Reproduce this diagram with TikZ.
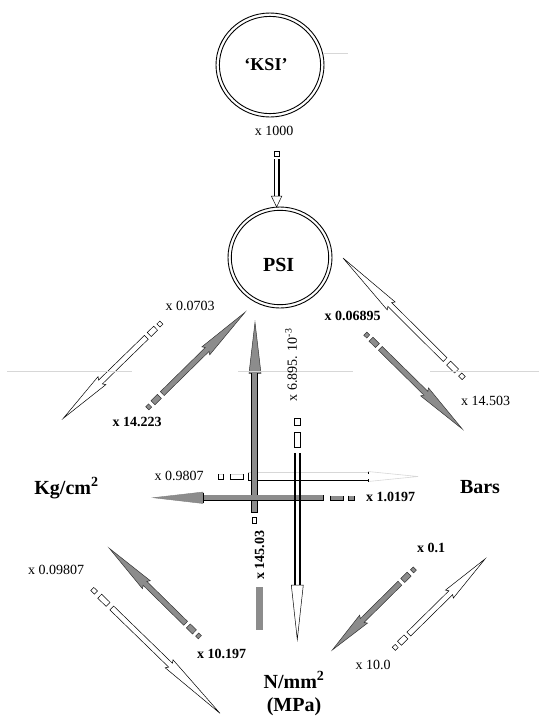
\documentclass[tikz,border=0pt]{standalone}
\usepackage{fontspec}
\setmainfont{Liberation Serif}
\usetikzlibrary{calc}
\definecolor{arrowgray}{RGB}{140,140,140}
\definecolor{faint}{RGB}{215,215,215}
\tikzset{
  lbl/.style={font=\fontsize{14}{16}\selectfont, anchor=base, inner sep=0pt},
  lblb/.style={font=\fontsize{14}{16}\selectfont\bfseries, anchor=base, inner sep=0pt},
  unit/.style={font=\fontsize{20}{23}\selectfont\bfseries, inner sep=0pt},
  whitearr/.style={draw=black, line width=0.5pt, fill=white},
  grayarr/.style={draw=black!80, line width=0.5pt, fill=arrowgray},
  ring/.style={draw=black, line width=0.9pt},
  edge/.style={draw=black, line width=1.1pt},
  guide/.style={draw=faint, line width=0.6pt},
}
% striped block arrow: #1 style, (#2,#3) tip, (#4,#5) point on the tail side,
% #6 head length, #7 shaft length, #8 stripe scale
\newcommand{\stripedarrow}[8]{%
  \pgfmathsetmacro{\arrang}{atan2(-((#5)-(#3)),(#4)-(#2))}%
  \begin{scope}[shift={(#2,#3)}, rotate=\arrang]
    \path[#1] (0,0) -- (#6,5.6) -- ({#6-2},2.7) -- (#7,2.7) -- (#7,-2.7) -- ({#6-2},-2.7) -- (#6,-5.6) -- cycle;
    \path[#1] ({#7+4*#8},2.8) rectangle ({#7+13*#8},-2.8);
    \path[#1] ({#7+17*#8},2.2) rectangle ({#7+21*#8},-2.2);
  \end{scope}}
\begin{document}
\begin{tikzpicture}[x=1pt, y=-1pt]
\useasboundingbox (0,0) rectangle (539,721);

% ---- horizontal arrow to Bars (x 0.9807), outline only
\path[fill=white] (248,472.7) rectangle (368,480);
\draw[guide] (248,472.7) -- (368,472.7);
\draw[black, line width=0.8pt] (248,472.7) -- (248,480) -- (368,480);
\draw[guide] (368,471.5) -- (418,476.5) -- (368,481.5);
\draw[black, line width=0.8pt] (368,471.5) -- (368,473.5) (368,479) -- (368,481.5);
\foreach \a/\b in {218/223, 230/243}{
  \draw[guide] (\a,474) -- (\b,474);
  \draw[black, line width=0.8pt] (\a,474) -- (\a,479.3) -- (\b,479.3) -- (\b,474);
}

% ---- vertical grey arrow up to PSI (x 145.03)
\path[grayarr] (255,322.3) -- (261,373.3) -- (249,373.3) -- cycle;
\fill[arrowgray] (251.3,373.3) rectangle (257.7,495);
\draw[edge] (251.3,373.3) -- (251.3,495) (257.7,373.3) -- (257.7,495);
\path[fill=arrowgray, draw=black, line width=0.9pt] (251.7,498.3) rectangle (257.3,512);
\path[fill=white, draw=black, line width=0.9pt] (252.2,517.5) rectangle (256.8,523);
\fill[arrowgray] (256,587) rectangle (262.7,630);

% ---- horizontal grey arrow to Kg/cm2 (x 1.0197)
\fill[arrowgray] (203,495) rectangle (323,500.5);
\draw[black, line width=0.9pt] (203,500.5) -- (323,500.5) -- (323,495);
\path[fill=arrowgray, draw=black!50, line width=0.4pt] (153,497.7) -- (203,492) -- (203,503.5) -- cycle;
\draw[black, line width=0.9pt] (203,492.5) -- (203,503);
\foreach \a/\b in {330/343, 348/354}{
  \fill[arrowgray] (\a,495.7) rectangle (\b,500.5);
  \draw[black, line width=0.8pt] (\a,495.7) -- (\a,500.5) -- (\b,500.5) -- (\b,495.7);
}

% ---- vertical open arrow down to N/mm2 (x 6.895 10^-3)
\draw[edge] (295,453) -- (295,585) (300,453) -- (300,585);
\path[whitearr] (291.3,585) -- (303.3,585) -- (297.3,639.5) -- cycle;
\draw[black, line width=0.9pt] (294.7,432) rectangle (300.3,447);
\draw[black, line width=0.9pt] (294.7,418.5) rectangle (300.3,425);

% ---- open arrow KSI -> PSI
\draw[edge] (274.3,159) -- (274.3,196) (279,159) -- (279,196);
\path[whitearr] (271.3,196) -- (281.9,196) -- (276.6,207) -- cycle;
\draw[black, line width=0.8pt] (274.2,151.7) rectangle (279.2,156.3);

% ---- unit circles
\draw[ring] (270,65) ellipse [x radius=54, y radius=52];
\draw[ring] (270,65) ellipse [x radius=50.6, y radius=48.6];
\draw[ring] (280,257.5) ellipse [x radius=52, y radius=50.5];
\draw[ring] (280,257.5) ellipse [x radius=48.7, y radius=47.2];

% ---- diagonal striped arrows
\stripedarrow{whitearr}{63.3}{418.3}{160.7}{323.3}{54}{116}{1}
\stripedarrow{grayarr}{245}{312.3}{148.3}{407.3}{55}{116}{1}
\stripedarrow{whitearr}{343}{258}{462.3}{376.7}{68}{144}{1.25}
\stripedarrow{grayarr}{462.3}{429}{365.7}{334}{53}{115}{1}
\stripedarrow{grayarr}{109.3}{548.3}{198.3}{635.7}{52}{107}{0.95}
\stripedarrow{whitearr}{220}{713.3}{93.3}{590}{71}{151}{1.3}
\stripedarrow{grayarr}{332.3}{650}{413.3}{570}{44}{95}{1}
\stripedarrow{whitearr}{485}{559}{396}{646.7}{50}{107}{1}

% ---- faint ruling
\draw[guide] (7,371) -- (132,371) (238,371) -- (353,371) (430,371) -- (539,371);
\draw[guide] (324,53.3) -- (348,53.3);

% ---- unit names
\node[unit, font=\fontsize{18}{21}\selectfont\bfseries, anchor=base] (ksi) at (266,70) {‘KSI’};
\node[unit, anchor=base] (psi) at (278.7,271.7) {PSI};
\node[unit, anchor=base] (kg) at (66.5,494) {Kg/cm\textsuperscript{2}};
\node[unit, anchor=base] (bars) at (480,493.3) {Bars};
\node[unit, anchor=north, align=center] (mpa) at (294,671) {N/mm\textsuperscript{2}\\(MPa)};

% ---- conversion factors
\node[lbl] (f1) at (274,135) {x 1000};
\node[lbl] (f2) at (190,310) {x 0.0703};
\node[lblb] (f3) at (137,426.7) {x 14.223};
\node[lblb] (f4) at (352.5,320) {x 0.06895};
\node[lbl] (f5) at (485.5,405.7) {x 14.503};
\node[lbl] (f6) at (179,480) {x 0.9807};
\node[lblb] (f7) at (390.5,501) {x 1.0197};
\node[lbl] (f8) at (56,574) {x 0.09807};
\node[lblb] (f9) at (221.7,658.3) {x 10.197};
\node[lblb] (f10) at (431,552.3) {x 0.1};
\node[lbl] (f11) at (373,669) {x 10.0};
\node[lblb, anchor=center, rotate=90] (f12) at (259.5,555) {x 145.03};
\node[lbl, anchor=center, rotate=90] (f13) at (291,365) {x 6.895. 10\textsuperscript{-3}};
\end{tikzpicture}
\end{document}
